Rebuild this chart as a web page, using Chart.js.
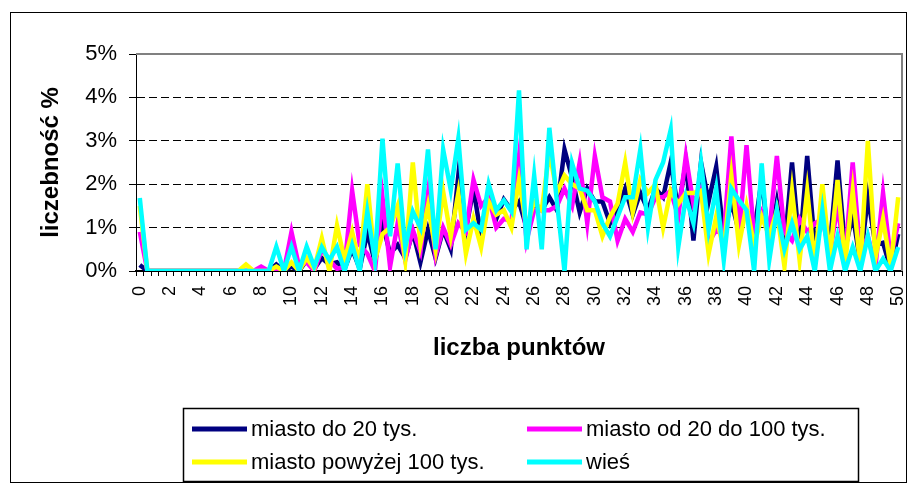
<!DOCTYPE html>
<html>
<head>
<meta charset="utf-8">
<script src="https://cdn.jsdelivr.net/npm/chart.js@4.4.0/dist/chart.umd.min.js"></script>
<style>
  html, body { margin: 0; padding: 0; background: #fff; }
  #wrap { position: relative; width: 908px; height: 484px; }
  #frame { position: absolute; left: 10px; top: 12px; width: 897px; height: 471px; border: 1px solid #000; box-sizing: border-box; pointer-events: none; }
  canvas { position: absolute; left: 0; top: 0; }
</style>
</head>
<body>
<div id="wrap">
  <canvas id="chart" width="908" height="484"></canvas>
  <div id="frame"></div>
</div>
<script>
// points on the x axis (0 - 50 in half-point steps)
const points = [
  0, 0.5, 1, 1.5, 2, 2.5, 3, 3.5, 4, 4.5, 5, 5.5, 6, 6.5, 7, 7.5, 8, 8.5, 9, 9.5,
  10, 10.5, 11, 11.5, 12, 12.5, 13, 13.5, 14, 14.5, 15, 15.5, 16, 16.5, 17, 17.5, 18, 18.5, 19, 19.5,
  20, 20.5, 21, 21.5, 22, 22.5, 23, 23.5, 24, 24.5, 25, 25.5, 26, 26.5, 27, 27.5, 28, 28.5, 29, 29.5,
  30, 30.5, 31, 31.5, 32, 32.5, 33, 33.5, 34, 34.5, 35, 35.5, 36, 36.5, 37, 37.5, 38, 38.5, 39, 39.5,
  40, 40.5, 41, 41.5, 42, 42.5, 43, 43.5, 44, 44.5, 45, 45.5, 46, 46.5, 47, 47.5, 48, 48.5, 49, 49.5,
  50
];
const shownLabels = [0, 2, 4, 6, 8, 10, 12, 14, 16, 18, 20, 22, 24, 26, 28, 30, 32, 34, 36, 38, 40, 42, 44, 46, 48, 50];

const seriesNames = ['miasto do 20 tys.', 'miasto od 20 do 100 tys.', 'miasto powyżej 100 tys.', 'wieś'];
const seriesColors = ['#000080', '#FF00FF', '#FFFF00', '#00FFFF'];

// liczebność w %
const miastoDo20 = [
  0.14, 0, 0, 0, 0, 0, 0, 0, 0, 0,
  0, 0, 0, 0, 0, 0, 0, 0, 0.15, 0,
  0.1, 0, 0.25, 0.05, 0.3, 0.15, 0.2, 0.05, 0.5, 0.05,
  0.9, 0.2, 1.1, 0.4, 0.6, 0.3, 0.9, 0.2, 0.95, 0.3,
  0.95, 0.5, 2.2, 0.95, 1.9, 0.8, 1.7, 1.2, 1.65, 1.4,
  1.6, 1.0, 1.5, 1.4, 1.7, 1.4, 2.8, 2.15, 1.35, 1.9,
  1.6, 1.6, 1.1, 1.45, 1.9, 1.3, 1.8, 1.4, 1.9, 1.7,
  2.5, 1.4, 2.5, 0.7, 2.5, 1.6, 2.4, 0.8, 1.6, 0.9,
  1.4, 0.9, 2.1, 0.6, 1.6, 0.5, 2.5, 0.5, 2.65, 0.6,
  1.3, 0.6, 2.55, 0.5, 1.3, 0.2, 1.7, 0.6, 0.65, 0.05,
  0.85
];
const miastoDo100 = [
  0.9, 0, 0, 0, 0, 0, 0, 0, 0, 0,
  0, 0, 0, 0, 0, 0, 0.1, 0, 0.05, 0,
  0.9, 0.1, 0.2, 0, 0.5, 0.25, 0.05, 0.1, 1.85, 0.6,
  0.4, 0, 1.7, 0.1, 1.1, 0.25, 0.95, 0.45, 1.8, 0.35,
  1.0, 0.6, 1.1, 0.9, 2.1, 1.5, 1.7, 1.0, 1.2, 1.15,
  2.65, 0.7, 1.4, 1.4, 1.4, 1.5, 1.9, 1.5, 2.5, 1.1,
  2.65, 1.7, 1.6, 0.7, 1.2, 0.9, 1.35, 1.3, 1.7, 1.7,
  1.85, 1.25, 2.65, 1.55, 1.9, 0.65, 0.95, 0.8, 3.1, 0.8,
  2.9, 0.8, 1.35, 0.9, 2.65, 0.9, 0.7, 1.2, 0.9, 1.1,
  1.2, 0.4, 1.5, 0.3, 2.5, 0.4, 0.8, 0.1, 1.8, 0.3,
  1.1
];
const miastoPow100 = [
  1.5, 0, 0, 0, 0, 0, 0, 0, 0, 0,
  0, 0, 0, 0, 0.15, 0, 0, 0, 0.1, 0,
  0.2, 0, 0.3, 0.05, 0.75, 0, 1.05, 0.25, 0.9, 0.15,
  2.0, 0.25, 0.85, 1.0, 1.5, 0.25, 2.5, 0.63, 1.5, 0.5,
  1.83, 0.8, 1.8, 0.4, 1.2, 0.55, 1.6, 1.3, 1.4, 1.0,
  2.1, 1.0, 1.6, 1.4, 2.75, 1.8, 2.2, 2.0, 1.9, 1.4,
  1.4, 0.8, 1.25, 1.55, 2.5, 1.35, 2.1, 1.8, 2.0, 1.0,
  1.85, 1.55, 1.8, 1.8, 1.85, 0.4, 1.25, 0.5, 2.2, 0.6,
  1.5, 0.6, 1.25, 0.8, 1.4, 0.1, 1.85, 0.25, 1.85, 0.15,
  2.0, 0.3, 2.1, 0.15, 1.85, 0.1, 3.0, 0.3, 1.2, 0.1,
  1.7
];
const wies = [
  1.68, 0, 0, 0, 0, 0, 0, 0, 0, 0,
  0, 0, 0, 0, 0, 0, 0, 0, 0.56, 0,
  0.56, 0, 0.56, 0.1, 0.55, 0.25, 0.55, 0, 0.6, 0,
  1.37, 0.25, 3.05, 0.8, 2.48, 0.55, 1.37, 1.0, 2.8, 0.5,
  2.8, 1.87, 3.05, 0.95, 1.1, 0.95, 2.0, 1.4, 1.63, 1.37,
  4.16, 0.5, 2.2, 0.5, 3.3, 1.6, 0, 2.48, 1.9, 1.85,
  1.6, 1.1, 0.8, 1.25, 1.7, 1.7, 2.8, 1.0, 2.1, 2.5,
  3.25, 0.55, 1.7, 1.1, 2.5, 0.95, 1.9, 0.25, 1.9, 1.63,
  1.4, 0, 2.48, 0.25, 1.4, 0.5, 1.1, 0.5, 0.8, 0,
  1.4, 0, 0.8, 0, 0.55, 0, 0.8, 0, 0.28, 0,
  0.55
];
const yTicks = [0, 1, 2, 3, 4, 5];

const FONT = 'Arial, "Liberation Sans", sans-serif';
Chart.defaults.font.family = FONT;
Chart.defaults.color = '#000';

// gray frame of the plot area (top + right)
const plotFrame = {
  id: 'plotFrame',
  beforeDatasetsDraw(chart) {
    const {ctx, chartArea: a} = chart;
    ctx.save();
    ctx.strokeStyle = '#808080';
    ctx.lineWidth = 2;
    ctx.beginPath();
    ctx.moveTo(a.left, a.top);
    ctx.lineTo(a.right, a.top);
    ctx.lineTo(a.right, a.bottom);
    ctx.stroke();
    ctx.restore();
  }
};

// legend in a box, two columns
const boxLegend = {
  id: 'boxLegend',
  afterDraw(chart) {
    const ctx = chart.ctx;
    const cols = [192, 527];
    const rows = [429, 462];
    ctx.save();
    ctx.strokeStyle = '#000';
    ctx.lineWidth = 1.5;
    ctx.strokeRect(183.5, 408.5, 675, 73);
    ctx.font = '22px ' + FONT;
    ctx.textBaseline = 'middle';
    ctx.fillStyle = '#000';
    chart.data.datasets.forEach((ds, i) => {
      const x = cols[i % 2];
      const y = rows[Math.floor(i / 2)];
      ctx.strokeStyle = ds.borderColor;
      ctx.lineWidth = 5;
      ctx.beginPath();
      ctx.moveTo(x, y);
      ctx.lineTo(x + 55, y);
      ctx.stroke();
      ctx.fillText(ds.label, x + 59, y + 1);
    });
    ctx.restore();
  }
};

const allSeries = [miastoDo20, miastoDo100, miastoPow100, wies];

new Chart(document.getElementById('chart').getContext('2d'), {
  type: 'line',
  data: {
    labels: points,
    datasets: allSeries.map((values, i) => ({
      label: seriesNames[i],
      data: values,
      borderColor: seriesColors[i],
      backgroundColor: seriesColors[i],
      borderWidth: 4.5,
      pointRadius: 0,
      tension: 0,
      fill: false,
      order: allSeries.length - i
    }))
  },
  options: {
    responsive: false,
    animation: false,
    events: [],
    layout: { padding: { top: 54, right: 6, bottom: 121, left: 0 } },
    plugins: {
      legend: { display: false },
      tooltip: { enabled: false }
    },
    scales: {
      x: {
        type: 'category',
        offset: true,
        grid: { offset: true, drawOnChartArea: false, drawTicks: true, tickLength: 5, color: '#000' },
        border: { color: '#000', width: 2 },
        ticks: {
          autoSkip: false,
          minRotation: 90,
          maxRotation: 90,
          padding: 10,
          font: { size: 18 },
          callback(v, i) {
            return shownLabels.includes(points[i]) ? String(points[i]) : '';
          }
        },
        title: { display: true, text: 'liczba punktów', font: { size: 24, weight: 'bold' }, padding: 0 },
        afterFit(scale) {
          scale.height = 92;
          scale.paddingLeft = 0;
          scale.paddingRight = 0;
        }
      },
      y: {
        min: 0,
        max: 5,
        afterBuildTicks(scale) {
          scale.ticks = yTicks.map(v => ({ value: v }));
        },
        ticks: {
          padding: 12,
          font: { size: 22 },
          callback: v => v + '%'
        },
        grid: {
          color: c => (c.tick && c.tick.value === 5) ? 'rgba(0,0,0,0)' : '#000',
          tickColor: '#000',
          tickLength: 7,
          tickBorderDash: []
        },
        border: { color: '#000', width: 1, dash: [8, 4] },
        title: { display: true, text: 'liczebność %', font: { size: 24, weight: 'bold' }, padding: { top: 37, bottom: 0 } },
        afterFit(scale) {
          scale.width = 136;
          scale.paddingTop = 0;
          scale.paddingBottom = 0;
        }
      }
    }
  },
  plugins: [plotFrame, boxLegend]
});
</script>
</body>
</html>
